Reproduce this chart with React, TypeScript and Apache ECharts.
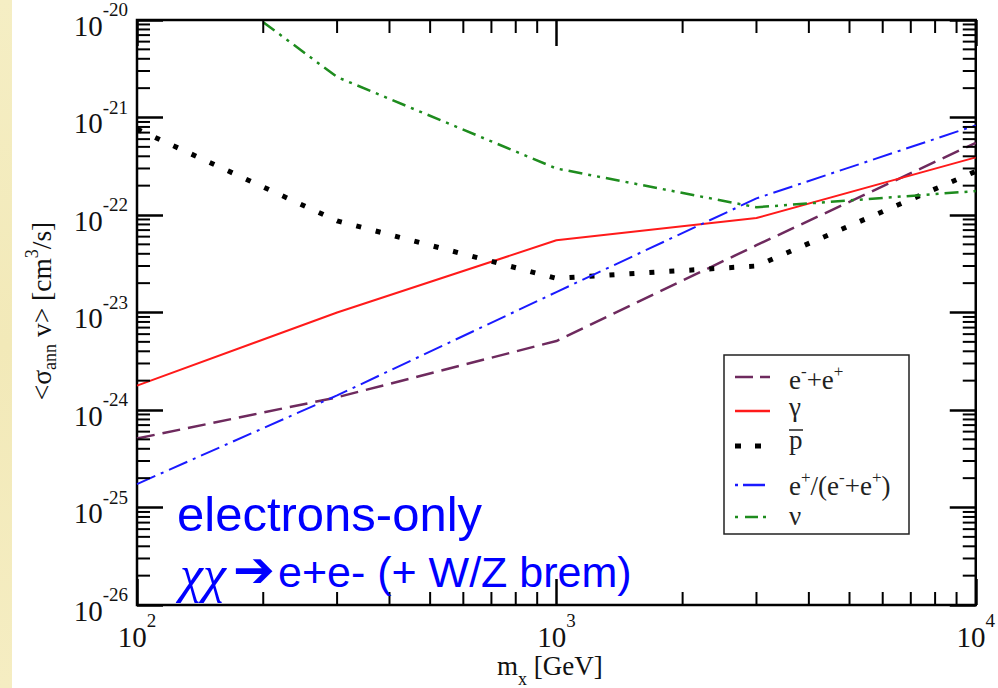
import React, { useEffect, useRef } from 'react';
import * as echarts from 'echarts';

// ---- data ----
const MASS_GEV = [100, 300, 1000, 3000, 10000];
const NU_MASS_GEV = [200, 300, 1000, 3000, 10000];
const SIGV_EPEM = [5.1e-25, 1.35e-24, 5.1e-24, 4.9e-23, 5.5e-22];
const SIGV_GAMMA = [1.78e-24, 1.0e-23, 5.5e-23, 9.3e-23, 3.9e-22];
const SIGV_PBAR = [7.6e-22, 8.7e-23, 2.24e-23, 3.0e-23, 2.8e-22];
const SIGV_RATIO = [1.74e-25, 1.41e-24, 1.62e-23, 1.48e-22, 8.3e-22];
const SIGV_NU = [9.5e-21, 2.6e-21, 3.0e-22, 1.2e-22, 1.76e-22];

// axes in decades (log10 space)
const X_MIN_EXP = 2;
const X_MAX_EXP = 4;
const Y_MIN_EXP = -26;
const Y_MAX_EXP = -20;

const X_DECADES = [2, 3];
const Y_DECADES = [-26, -25, -24, -23, -22, -21];
const MINOR_MULTS = [2, 3, 4, 5, 6, 7, 8, 9];

const LEGEND_LABELS = [
  '{b|e}{s|-}{b|+e}{s|+}',
  '{b|γ}',
  '{b|p}',
  '{b|e}{s|+}{b|/(e}{s|-}{b|+e}{s|+}{b|)}',
  '{b|ν}',
];
const NOTE_LINE1 = 'electrons-only';
const NOTE_CHI = 'χχ';
const NOTE_ARROW = '➔';
const NOTE_REST = 'e+e- (+ W/Z brem)';
const X_NAME = '{b|m}{sub|x}{b| [GeV]}';
const Y_NAME = '{b|<σ}{sub|ann}{b| v> [cm}{sup|3}{b|/s]}';

const SERIF = '"Liberation Serif", "Times New Roman", serif';
const SANS = '"Liberation Sans", Arial, sans-serif';

const C_EPEM = '#6E2A5E';
const C_GAMMA = '#FF1A1A';
const C_PBAR = '#000000';
const C_RATIO = '#1A1AFF';
const C_NU = '#1E8C1E';

const DASH_EPEM = [18, 8];
const DASH_PBAR = [5, 15];
const DASH_RATIO = [20, 6, 3, 6];
const DASH_NU = [14, 6, 3, 6, 3, 6];

const minorX: number[] = [];
X_DECADES.forEach((e) => MINOR_MULTS.forEach((m) => minorX.push(Math.log10(m) + e)));
const minorY: number[] = [];
Y_DECADES.forEach((e) => MINOR_MULTS.forEach((m) => minorY.push(Math.log10(m) + e)));

const tickStyle = { stroke: '#000', lineWidth: 2 };

function lineSeries(name: string, xs: number[], ys: number[], color: string, width: number, type: any) {
  return {
    type: 'line',
    name,
    data: xs.map((x, i) => [Math.log10(x), Math.log10(ys[i])]),
    symbol: 'none',
    showSymbol: false,
    silent: true,
    clip: true,
    lineStyle: { color, width, type, cap: 'butt' },
    z: 3,
  };
}

const labelRich = {
  b: { fontFamily: SERIF, fontSize: 29, lineHeight: 40, color: '#111', verticalAlign: 'bottom' },
  s: { fontFamily: SERIF, fontSize: 19, lineHeight: 19, color: '#111', verticalAlign: 'top' },
};
const expFmt = (v: number) => `{b|10}{s|${Math.round(v)}}`;

const majorTick = { show: true, inside: true, length: 26, lineStyle: { color: '#000', width: 2.5 } };

function buildOption() {
  const sampleRows = [377, 411, 446, 485, 517];
  const textRows = [378, 405, 438, 484, 514];
  const legendSamples: any[] = [
    { color: C_EPEM, dash: [18, 7], w: 2.5 },
    { color: C_GAMMA, dash: null, w: 2.5 },
    { color: C_PBAR, dash: [6, 14], w: 5 },
    { color: C_RATIO, dash: [3, 5, 22, 100], w: 2.5 },
    { color: C_NU, dash: [3, 7, 13, 5, 3, 100], w: 2.5 },
  ];
  const legendChildren: any[] = [
    {
      type: 'rect',
      shape: { x: 724, y: 355, width: 185, height: 179 },
      style: { fill: '#fff', stroke: '#222', lineWidth: 1.5 },
    },
  ];
  sampleRows.forEach((y, i) => {
    const s = legendSamples[i];
    legendChildren.push({
      type: 'line',
      shape: { x1: 735, y1: y, x2: 770, y2: y },
      style: { stroke: s.color, lineWidth: s.w, lineDash: s.dash || undefined },
    });
    legendChildren.push({
      type: 'text',
      x: 789,
      y: textRows[i],
      style: {
        text: LEGEND_LABELS[i],
        align: 'left',
        verticalAlign: 'middle',
        rich: {
          b: { fontFamily: SERIF, fontSize: 27, lineHeight: 30, fill: '#222', verticalAlign: 'bottom' },
          s: { fontFamily: SERIF, fontSize: 17, lineHeight: 17, fill: '#222', verticalAlign: 'top' },
        },
      },
    });
  });
  legendChildren.push({
    type: 'line',
    shape: { x1: 789, y1: 430, x2: 803, y2: 430 },
    style: { stroke: '#222', lineWidth: 1.5 },
  });

  const xBase = {
    type: 'value',
    min: X_MIN_EXP,
    max: X_MAX_EXP,
    interval: 1,
    axisLine: { show: false },
    axisTick: majorTick,
    splitLine: { show: false },
  };
  const yBase = {
    type: 'value',
    min: Y_MIN_EXP,
    max: Y_MAX_EXP,
    interval: 1,
    axisLine: { show: false },
    axisTick: majorTick,
    splitLine: { show: false },
  };

  return {
    animation: false,
    backgroundColor: '#ffffff',
    grid: {
      left: 137,
      top: 20,
      right: 21,
      bottom: 83,
      show: true,
      backgroundColor: '#ffffff',
      borderColor: '#000',
      borderWidth: 2.5,
      z: 0,
    },
    xAxis: [
      { ...xBase, axisLabel: { margin: 6, formatter: expFmt, rich: labelRich } },
      { ...xBase, position: 'top', axisLabel: { show: false } },
    ],
    yAxis: [
      { ...yBase, axisLabel: { margin: 9, formatter: expFmt, rich: labelRich } },
      { ...yBase, position: 'right', axisLabel: { show: false } },
    ],
    series: [
      lineSeries('e-+e+', MASS_GEV, SIGV_EPEM, C_EPEM, 2.5, DASH_EPEM),
      lineSeries('gamma', MASS_GEV, SIGV_GAMMA, C_GAMMA, 2, 'solid'),
      lineSeries('pbar', MASS_GEV, SIGV_PBAR, C_PBAR, 5, DASH_PBAR),
      lineSeries('ratio', MASS_GEV, SIGV_RATIO, C_RATIO, 2, DASH_RATIO),
      lineSeries('nu', NU_MASS_GEV, SIGV_NU, C_NU, 2.5, DASH_NU),
      {
        type: 'custom',
        name: 'xminor',
        silent: true,
        clip: false,
        data: minorX.map((v) => [v, Y_MIN_EXP]),
        encode: { x: 0, y: 1 },
        z: 4,
        renderItem: (params: any, api: any) => {
          const v = api.value(0);
          const b = api.coord([v, Y_MIN_EXP]);
          const t = api.coord([v, Y_MAX_EXP]);
          return {
            type: 'group',
            children: [
              { type: 'line', shape: { x1: b[0], y1: b[1], x2: b[0], y2: b[1] - 13 }, style: tickStyle },
              { type: 'line', shape: { x1: t[0], y1: t[1], x2: t[0], y2: t[1] + 13 }, style: tickStyle },
            ],
          };
        },
      },
      {
        type: 'custom',
        name: 'yminor',
        silent: true,
        clip: false,
        data: minorY.map((v) => [X_MIN_EXP, v]),
        encode: { x: 0, y: 1 },
        z: 4,
        renderItem: (params: any, api: any) => {
          const v = api.value(1);
          const l = api.coord([X_MIN_EXP, v]);
          const r = api.coord([X_MAX_EXP, v]);
          return {
            type: 'group',
            children: [
              { type: 'line', shape: { x1: l[0], y1: l[1], x2: l[0] + 13, y2: l[1] }, style: tickStyle },
              { type: 'line', shape: { x1: r[0], y1: r[1], x2: r[0] - 13, y2: r[1] }, style: tickStyle },
            ],
          };
        },
      },
    ],
    graphic: [
      {
        type: 'rect',
        shape: { x: 0, y: 0, width: 12, height: 688 },
        style: {
          fill: {
            type: 'linear',
            x: 0, y: 0, x2: 0, y2: 1,
            colorStops: [
              { offset: 0, color: '#F5EEC4' },
              { offset: 0.5, color: '#F2E9B8' },
              { offset: 1, color: '#F5EDC2' },
            ],
          },
        },
        z: -10,
      },
      { type: 'group', children: legendChildren, z: 20 },
      {
        type: 'text',
        x: 177,
        y: 514,
        z: 20,
        style: { text: NOTE_LINE1, fontFamily: SANS, fontSize: 49, fill: '#0000FF', align: 'left', verticalAlign: 'middle' },
      },
      {
        type: 'text',
        x: 180,
        y: 574,
        z: 20,
        style: { text: NOTE_CHI, fontFamily: SERIF, fontStyle: 'italic', fontSize: 52, fill: '#0000FF', align: 'left', verticalAlign: 'middle' },
      },
      {
        type: 'text',
        x: 233,
        y: 570,
        z: 20,
        style: { text: NOTE_ARROW, fontFamily: '"DejaVu Sans"', fontSize: 50, fill: '#0000FF', align: 'left', verticalAlign: 'middle' },
      },
      {
        type: 'text',
        x: 278,
        y: 572,
        z: 20,
        style: { text: NOTE_REST, fontFamily: SANS, fontSize: 43, fill: '#0000FF', align: 'left', verticalAlign: 'middle' },
      },
      {
        type: 'text',
        x: 497,
        y: 670,
        z: 20,
        style: {
          text: X_NAME,
          align: 'left',
          verticalAlign: 'middle',
          rich: {
            b: { fontFamily: SERIF, fontSize: 27, lineHeight: 36, fill: '#111', verticalAlign: 'top' },
            sub: { fontFamily: SERIF, fontSize: 18, lineHeight: 18, fill: '#111', verticalAlign: 'bottom' },
          },
        },
      },
      {
        type: 'text',
        x: 41,
        y: 311,
        rotation: Math.PI / 2,
        z: 20,
        style: {
          text: Y_NAME,
          align: 'center',
          verticalAlign: 'middle',
          rich: {
            b: { fontFamily: SERIF, fontSize: 27.5, lineHeight: 36, fill: '#111', verticalAlign: 'middle' },
            sub: { fontFamily: SERIF, fontSize: 18, lineHeight: 18, fill: '#111', verticalAlign: 'bottom' },
            sup: { fontFamily: SERIF, fontSize: 18, lineHeight: 18, fill: '#111', verticalAlign: 'top' },
          },
        },
      },
    ],
  };
}

export default function App() {
  const ref = useRef<HTMLDivElement>(null);
  useEffect(() => {
    if (!ref.current) return;
    const chart = echarts.init(ref.current, undefined, { renderer: 'svg' });
    chart.setOption(buildOption() as any);
    return () => chart.dispose();
  }, []);
  return (
    <div
      ref={ref}
      style={{ position: 'fixed', left: 0, top: 0, width: 998, height: 688, background: '#fff' }}
    />
  );
}
